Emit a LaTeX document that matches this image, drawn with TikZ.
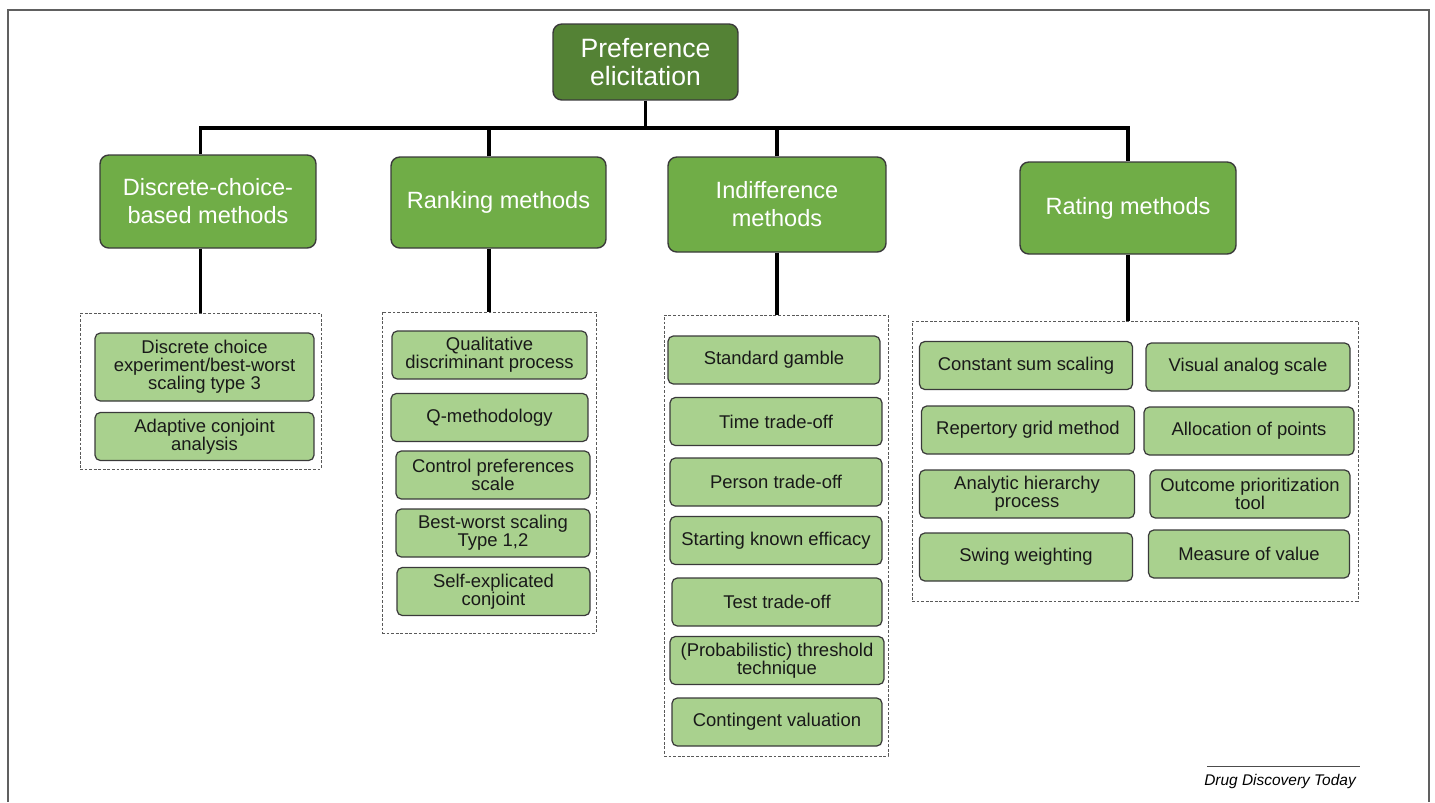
\documentclass[tikz,border=0pt]{standalone}
\usepackage{fontspec}
\setmainfont{Liberation Sans}
\definecolor{topgreen}{HTML}{548235}
\definecolor{midgreen}{HTML}{70AD47}
\definecolor{leafgreen}{HTML}{A9D18E}
\definecolor{boxline}{HTML}{3A3A3A}

\begin{document}
\begin{tikzpicture}[x=0.02cm, y=-0.02cm,
	rootbox/.style={draw=boxline, line width=0.8pt, fill=topgreen, rounded corners=5pt, text=white, align=center, font=\fontsize{15.1}{16}\selectfont, inner sep=0pt, minimum width=3.7cm, minimum height=1.52cm},
	methodbox/.style={draw=boxline, line width=0.8pt, fill=midgreen, rounded corners=5pt, text=white, align=center, font=\fontsize{13.4}{16}\selectfont, inner sep=0pt},
	leafbox/.style={draw=boxline, line width=0.7pt, fill=leafgreen, rounded corners=3pt, align=center, text=black!90, font=\fontsize{10.5}{10.2}\selectfont, inner sep=0pt, minimum height=0.96cm},
	groupbox/.style={draw=gray!70!black, line width=0.45pt, dash pattern=on 1.6pt off 1pt, inner sep=0pt},
	conn/.style={line width=2.2pt}]

	\useasboundingbox (0,0) rectangle (1435,802);
	\draw[gray!75!black, line width=0.9pt] (8,802) -- (8,10) -- (1429,10) -- (1429,802);

	\node[rootbox] (pref) at (645.5,62) {Preference\\elicitation};

	\node[methodbox, minimum width=4.32cm, minimum height=1.86cm] (discrete) at (208,201.5) {Discrete-choice-\\based methods};
	\node[methodbox, minimum width=4.3cm, minimum height=1.82cm] (ranking) at (498.5,202.5) {Ranking methods};
	\node[methodbox, minimum width=4.36cm, minimum height=1.9cm] (indiff) at (777,204.5) {Indifference\\methods};
	\node[methodbox, minimum width=4.32cm, minimum height=1.84cm] (rating) at (1128,208) {Rating methods};

	\node[groupbox, minimum width=4.82cm, minimum height=3.12cm] (g1) at (200.5,391) {};
	\node[groupbox, minimum width=4.28cm, minimum height=6.42cm] (g2) at (489,472.5) {};
	\node[groupbox, minimum width=4.48cm, minimum height=8.82cm] (g3) at (776,535.5) {};
	\node[groupbox, minimum width=8.92cm, minimum height=5.6cm] (g4) at (1135,461) {};

	\coordinate (bus) at (646,128);
	\draw[conn] (pref.south) -- (pref.south |- bus);
	\draw[conn] (discrete.north -| g1.north) -- (g1.north |- bus) -- (rating.north |- bus) -- (rating.north);
	\draw[conn] (ranking.north -| g2.north) -- (g2.north |- bus);
	\draw[conn] (indiff.north) -- (indiff.north |- bus);

	\draw[conn] (discrete.south -| g1.north) -- (g1.north);
	\draw[conn] (ranking.south -| g2.north) -- (g2.north);
	\draw[conn] (indiff.south) -- (g3.north -| indiff.south);
	\draw[conn] (rating.south) -- (g4.north -| rating.south);

	\node[leafbox, minimum width=4.38cm, minimum height=1.36cm] (dce) at (204.5,367) {Discrete choice\\experiment/best-worst\\scaling type 3};
	\node[leafbox, minimum width=4.38cm] (aca) at (204.5,436.5) {Adaptive conjoint\\analysis};

	\node[leafbox, minimum width=3.9cm] (qdp) at (489.5,355) {Qualitative\\discriminant process};
	\node[leafbox, minimum width=3.94cm] (qmeth) at (489.5,417.5) {Q-methodology};
	\node[leafbox, minimum width=3.88cm] (cps) at (493,475) {Control preferences\\scale};
	\node[leafbox, minimum width=3.88cm] (bws) at (493,533) {Best-worst scaling\\Type 1,2};
	\node[leafbox, minimum width=3.86cm] (sec) at (493.5,591.5) {Self-explicated\\conjoint};

	\node[leafbox, minimum width=4.24cm] (sg) at (774,360) {Standard gamble};
	\node[leafbox, minimum width=4.24cm] (tto) at (776,421.5) {Time trade-off};
	\node[leafbox, minimum width=4.24cm] (pto) at (776,482) {Person trade-off};
	\node[leafbox, minimum width=4.24cm] (ske) at (776,540.5) {Starting known efficacy};
	\node[leafbox, minimum width=4.2cm] (test) at (777,602) {Test trade-off};
	\node[leafbox, minimum width=4.28cm] (prob) at (777,660.5) {(Probabilistic) threshold\\technique};
	\node[leafbox, minimum width=4.2cm] (cv) at (777,722) {Contingent valuation};

	\node[leafbox, minimum width=4.26cm] (css) at (1026,365.5) {Constant sum scaling};
	\node[leafbox, minimum width=4.08cm] (vas) at (1248,367) {Visual analog scale};
	\node[leafbox, minimum width=4.26cm] (rgm) at (1028,430) {Repertory grid method};
	\node[leafbox, minimum width=4.2cm] (alloc) at (1249,431) {Allocation of points};
	\node[leafbox, minimum width=4.3cm] (ahp) at (1027,494) {Analytic hierarchy\\process};
	\node[leafbox, minimum width=4.0cm] (opt) at (1250,494) {Outcome prioritization\\tool};
	\node[leafbox, minimum width=4.26cm] (swing) at (1026,557) {Swing weighting};
	\node[leafbox, minimum width=4.02cm] (mov) at (1249,554) {Measure of value};

	\node[font=\fontsize{8.8}{10}\selectfont\itshape, inner sep=0pt] (source) at (1280,781) {Drug Discovery Today};
	\draw[gray!60!black, line width=0.5pt] ([xshift=2pt, yshift=4pt]source.north west) -- ([xshift=2pt, yshift=4pt]source.north east);

\end{tikzpicture}
\end{document}
